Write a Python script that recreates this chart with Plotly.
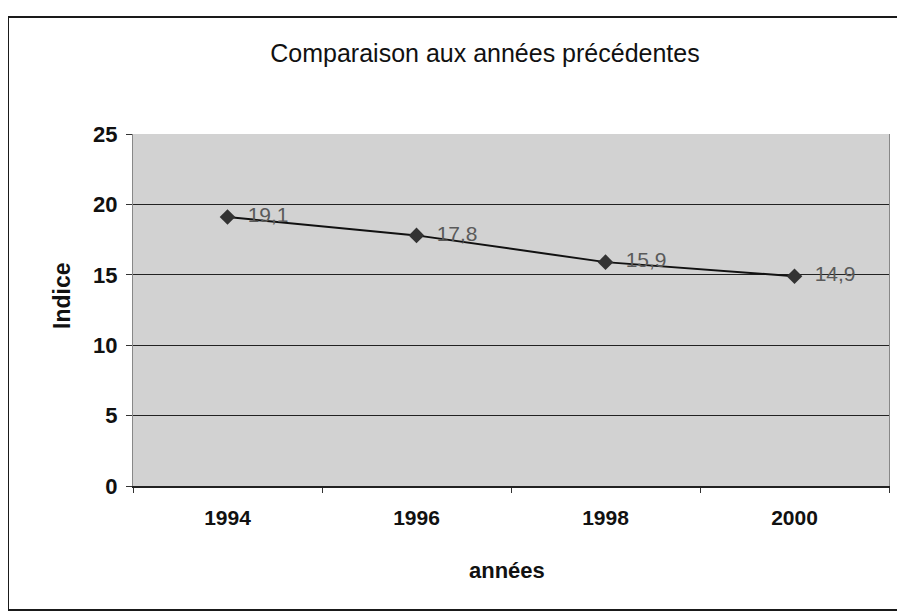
import plotly.graph_objects as go

years = ["1994", "1996", "1998", "2000"]
indice = [19.1, 17.8, 15.9, 14.9]
labels = ["\u00a0\u00a0" + f"{v:.1f}".replace(".", ",") for v in indice]
y_ticks = [0, 5, 10, 15, 20, 25]

FONT = "Liberation Sans, Arial, sans-serif"
L, T, W, H = 125, 126, 756, 352

fig = go.Figure()
fig.add_trace(go.Scatter(
    x=years, y=indice, mode="lines+markers+text",
    text=labels, textposition="middle right",
    textfont=dict(family=FONT, size=21, color="#5a5a5a"),
    line=dict(color="#111111", width=2),
    marker=dict(symbol="diamond", size=12, color="#333333"),
    showlegend=False, cliponaxis=False,
))

fig.update_layout(
    width=905, height=613,
    margin=dict(l=L, r=905 - L - W, t=T, b=613 - T - H),
    paper_bgcolor="white", plot_bgcolor="#d2d2d2",
    font=dict(family=FONT, color="#111111"),
    title=dict(text="Comparaison aux années précédentes", x=477 / 905, xanchor="center",
               y=1 - 45 / 613, yanchor="middle",
               font=dict(family=FONT, size=25, color="#111111")),
    xaxis=dict(type="category", range=[-0.5, len(years) - 0.5], tickson="boundaries",
               ticks="outside", ticklen=5,
               tickcolor="#333333", showgrid=False, showline=True, linecolor="#222222",
               linewidth=1.5, ticklabelstandoff=12,
               tickfont=dict(family=FONT, size=21, color="#111111", weight="bold")),
    yaxis=dict(range=[0, 25], tickvals=y_ticks, ticks="outside", ticklen=6,
               tickcolor="#333333", showgrid=True, gridcolor="#222222", gridwidth=1,
               zeroline=False, showline=True, linecolor="#888888", mirror=True,
               ticklabelstandoff=4,
               tickfont=dict(family=FONT, size=22, color="#111111", weight="bold")),
    annotations=[
        dict(text="Indice", xref="paper", yref="paper", x=(54 - L) / W, y=0.54,
             textangle=-90, showarrow=False, xanchor="center", yanchor="middle",
             font=dict(family=FONT, size=23, color="#111111", weight="bold")),
        dict(text="années", xref="paper", yref="paper", x=(499 - L) / W,
             y=-(562 - (T + H)) / H, showarrow=False, xanchor="center", yanchor="middle",
             font=dict(family=FONT, size=22, color="#111111", weight="bold")),
    ],
)

fig.add_shape(type="rect", xref="paper", yref="paper",
              x0=(0 - L) / W, x1=(915 - L) / W,
              y0=-(602 - (T + H)) / H, y1=1 + (T - 9) / H,
              line=dict(color="#1a1a1a", width=2), fillcolor="rgba(0,0,0,0)")

fig.write_html("out.html")
